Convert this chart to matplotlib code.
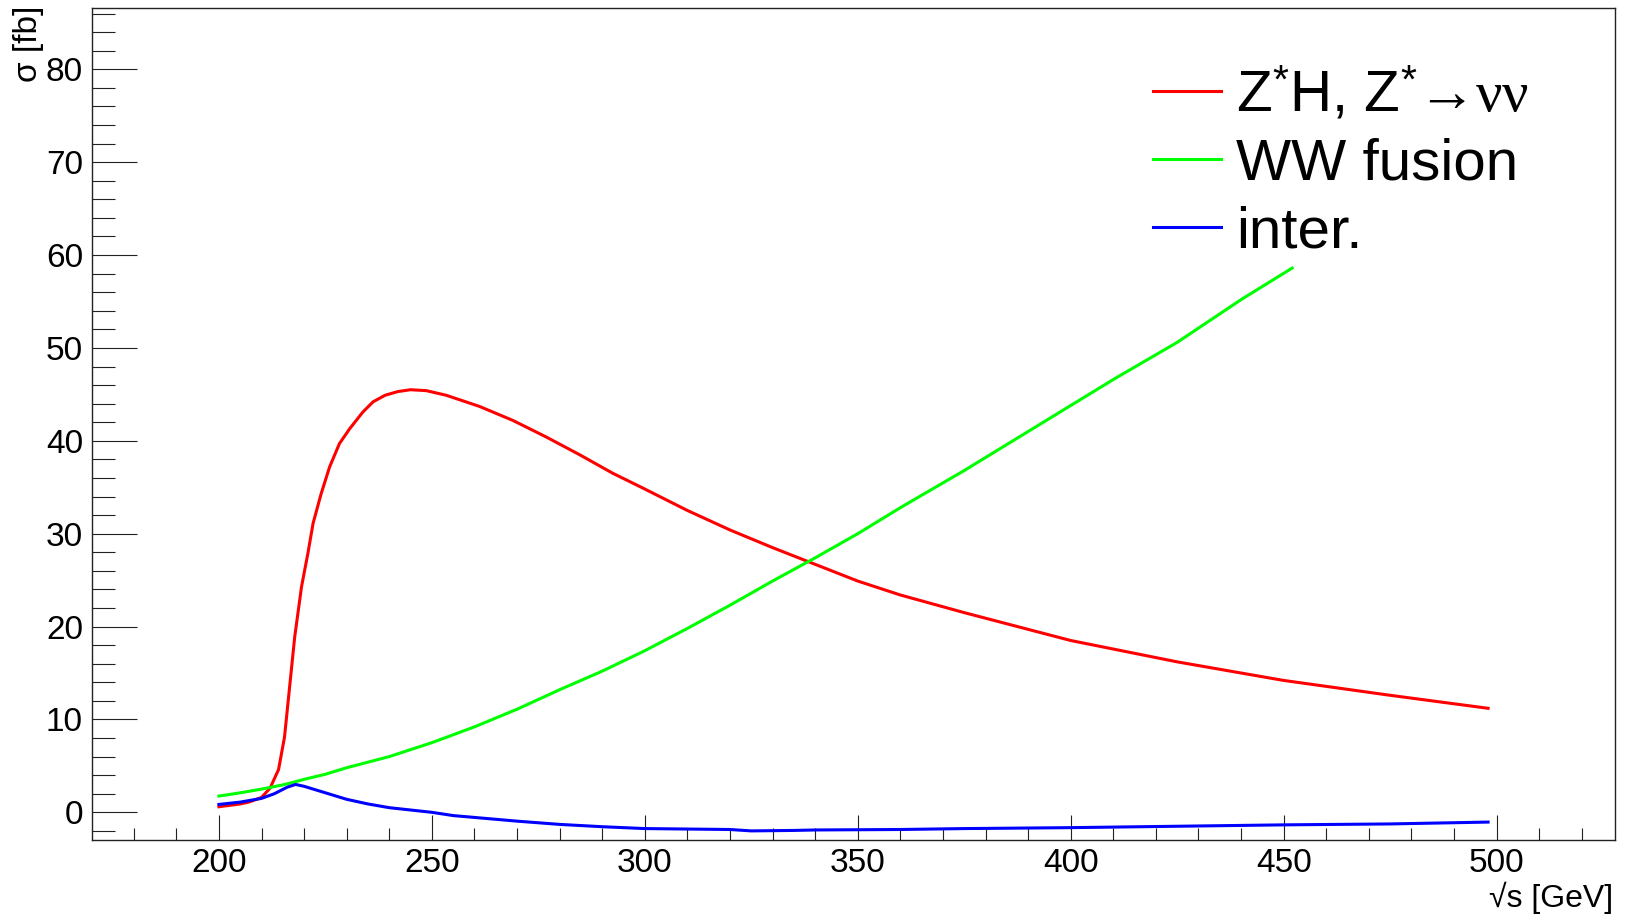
import numpy as np
import matplotlib
matplotlib.use("Agg")
import matplotlib.pyplot as plt
from matplotlib.ticker import MultipleLocator

plt.rcParams['font.family'] = ['Liberation Sans', 'DejaVu Sans']
plt.rcParams['mathtext.fontset'] = 'custom'
plt.rcParams['mathtext.rm'] = 'Liberation Sans'
plt.rcParams['mathtext.it'] = 'Liberation Serif'
plt.rcParams['mathtext.bf'] = 'Liberation Sans:bold'

# ZH, Z* -> nu nu
zh_x = [200, 205, 207, 210, 212, 214, 215.4, 216.6, 217.8, 219.4, 220.9, 222.1, 224,
        226, 228.3, 230.7, 233.8, 236.2, 239, 242, 245, 248.7, 253.4, 261.2, 269,
        276.9, 284.7, 292.5, 299.6, 310, 320, 330, 340, 350, 360, 375, 390, 400,
        425, 450, 475, 498]
zh_y = [0.6, 0.9, 1.1, 1.6, 2.6, 4.6, 8.1, 13.5, 18.9, 24.3, 27.9, 31.1, 34.3,
        37.2, 39.7, 41.3, 43.1, 44.2, 44.9, 45.3, 45.5, 45.4, 44.9, 43.7, 42.2,
        40.4, 38.5, 36.5, 34.9, 32.5, 30.4, 28.5, 26.7, 24.9, 23.4, 21.5, 19.7, 18.5,
        16.2, 14.2, 12.6, 11.2]

# WW fusion
ww_x = [200, 205, 210, 215, 218, 220, 225, 230, 240, 250, 260, 270, 280, 290, 300,
        310, 320, 330, 340, 350, 360, 375, 390, 400, 410, 425, 440, 452]
ww_y = [1.75, 2.1, 2.5, 2.95, 3.3, 3.55, 4.1, 4.8, 6.0, 7.5, 9.2, 11.1, 13.2, 15.2, 17.4,
        19.8, 22.3, 24.9, 27.4, 30.0, 32.8, 36.8, 41.0, 43.8, 46.6, 50.6, 55.2, 58.6]

# interference
it_x = [200, 205, 210, 213, 216, 218, 220, 225, 230, 235, 240, 245, 250, 255, 260,
        265, 270, 280, 290, 300, 310, 320, 325, 335, 340, 360, 375, 400, 425, 450,
        475, 498]
it_y = [0.85, 1.1, 1.5, 2.0, 2.7, 3.0, 2.8, 2.1, 1.4, 0.9, 0.5, 0.25, 0.0, -0.35, -0.55,
        -0.75, -0.95, -1.3, -1.55, -1.75, -1.8, -1.85, -2.0, -1.95, -1.9, -1.85, -1.75,
        -1.65, -1.5, -1.35, -1.25, -1.05]

labels = [r'Z$^{*}$H, Z$^{*}$→$\nu\nu$', 'WW fusion', 'inter.']
colors = ['#ff0000', '#00ff00', '#0000ff']

fig = plt.figure(figsize=(16.32, 9.15), dpi=100)
ax = fig.add_axes([92 / 1632, 1 - 840 / 915, (1615 - 92) / 1632, (840 - 8) / 915])

lines = []
for xs, ys, c, lab in zip([zh_x, ww_x, it_x], [zh_y, ww_y, it_y], colors, labels):
    ln, = ax.plot(xs, ys, color=c, lw=2.2, label=lab)
    lines.append(ln)

ax.set_xlim(170.2, 527.8)
ax.set_ylim(-2.98, 86.6)

ax.xaxis.set_major_locator(MultipleLocator(50))
ax.xaxis.set_minor_locator(MultipleLocator(10))
ax.yaxis.set_major_locator(MultipleLocator(10))
ax.yaxis.set_minor_locator(MultipleLocator(2))

ax.tick_params(axis='both', which='both', direction='in', top=False, right=False,
               width=0.8, color='#222222', labelsize=24)
ax.tick_params(axis='x', which='major', length=18, pad=6)
ax.tick_params(axis='x', which='minor', length=9)
ax.tick_params(axis='y', which='major', length=32.5, pad=6.5)
ax.tick_params(axis='y', which='minor', length=16.5)
for sp in ax.spines.values():
    sp.set_linewidth(1.0)
    sp.set_color('#222222')

fig.text(29 / 1632, 1 - 6 / 915, 'σ [fb]', rotation=90, ha='center', va='top',
         fontsize=24)
fig.text(1613 / 1632, 1 - 898 / 915, '√s [GeV]', ha='right',
         va='center', fontsize=23)

leg = ax.legend(handles=lines, loc='upper left', bbox_to_anchor=(0.6967, 0.930),
                frameon=False, fontsize=42, handlelength=1.17, handletextpad=0.26,
                labelspacing=0.24, borderpad=0, borderaxespad=0)

fig.savefig('out.png', dpi=100)
